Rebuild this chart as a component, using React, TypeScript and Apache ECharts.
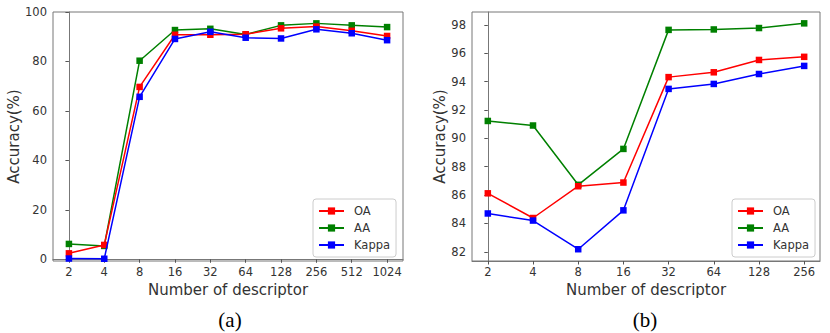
import React, { useEffect, useRef } from "react";
import * as echarts from "echarts";

const catsA = ["2", "4", "8", "16", "32", "64", "128", "256", "512", "1024"];
const oaA = [2.4, 5.8, 69.7, 90.8, 90.8, 91.0, 93.4, 94.1, 92.4, 90.3];
const aaA = [6.2, 5.4, 80.3, 92.7, 93.2, 90.9, 94.6, 95.4, 94.6, 93.9];
const kappaA = [0.3, 0.2, 65.7, 89.1, 92.0, 89.6, 89.3, 93.0, 91.4, 88.6];
const yTicksA = [0, 20, 40, 60, 80, 100];

const catsB = ["2", "4", "8", "16", "32", "64", "128", "256"];
const oaB = [86.12, 84.38, 86.62, 86.88, 94.31, 94.65, 95.52, 95.74];
const aaB = [91.22, 90.9, 86.72, 89.25, 97.64, 97.67, 97.77, 98.1];
const kappaB = [84.7, 84.2, 82.18, 84.92, 93.48, 93.83, 94.53, 95.1];
const yTicksB = [82, 84, 86, 88, 90, 92, 94, 96, 98];

const COLORS = { OA: "#ff0000", AA: "#008000", Kappa: "#0000ff" };
const FONT = "DejaVu Sans";
const TXT = "#333333";

export default function App() {
  const ref = useRef<HTMLDivElement>(null);
  useEffect(() => {
    if (!ref.current) return;
    const chart = echarts.init(ref.current, undefined, { renderer: "svg" });
    const xAxisBase = (cats: string[], gridIndex: number, pad: number) => ({
      type: "value",
      gridIndex,
      min: -pad,
      max: cats.length - 1 + pad,
      name: "Number of descriptor",
      nameLocation: "middle",
      nameGap: 19,
      nameTextStyle: { fontFamily: FONT, fontSize: 15, color: TXT },
      axisLine: { show: true, lineStyle: { color: "#777", width: 1 } },
      axisTick: {
        show: true,
        length: 3.5,
        customValues: cats.map((_, i) => i),
        lineStyle: { color: "#555" },
      },
      axisLabel: {
        customValues: cats.map((_, i) => i),
        formatter: (v: number) => cats[Math.round(v)] ?? "",
        fontFamily: FONT,
        fontSize: 11.5,
        color: TXT,
        margin: 5,
      },
      splitLine: { show: false },
    });
    const yAxisBase = (ticks: number[], gridIndex: number, min: number, max: number, gap: number) => ({
      type: "value",
      gridIndex,
      min,
      max,
      name: "Accuracy(%)",
      nameLocation: "middle",
      nameRotate: 90,
      nameGap: gap,
      nameTextStyle: { fontFamily: FONT, fontSize: 15, color: TXT },
      axisLine: { show: true, lineStyle: { color: "#777", width: 1 } },
      axisTick: { show: true, length: 3.5, customValues: ticks, lineStyle: { color: "#555" } },
      axisLabel: {
        customValues: ticks,
        fontFamily: FONT,
        fontSize: 11.5,
        color: TXT,
        margin: 6,
      },
      splitLine: { show: false },
    });
    const mk = (name: "OA" | "AA" | "Kappa", data: number[], idx: number) => ({
      type: "line",
      name,
      xAxisIndex: idx,
      yAxisIndex: idx,
      data: data.map((v, i) => [i, v]),
      symbol: "rect",
      symbolSize: 6.5,
      lineStyle: { color: COLORS[name], width: 1.5 },
      itemStyle: { color: COLORS[name] },
      z: name === "OA" ? 3 : name === "AA" ? 2 : 4,
    });
    const legendBase = (left: number) => ({
      orient: "vertical",
      left,
      top: 199,
      padding: [6, 6, 6, 5],
      itemGap: 5,
      itemWidth: 25,
      itemHeight: 9,
      borderColor: "#cccccc",
      borderWidth: 1,
      borderRadius: 3,
      backgroundColor: "#fff",
      selectedMode: false,
      data: ["OA", "AA", "Kappa"],
      textStyle: { fontFamily: FONT, fontSize: 11.5, color: TXT, padding: [0, 0, 0, 5] },
    });
    const caption = (x: number, text: string) => ({
      type: "text",
      x,
      y: 320,
      style: {
        text,
        fontFamily: "Liberation Serif",
        fontSize: 21,
        fill: "#000",
        textAlign: "center",
        textVerticalAlign: "middle",
      },
    });
    chart.setOption({
      animation: false,
      backgroundColor: "#ffffff",
      grid: [
        { left: 53, right: 427, top: 12, bottom: 72, show: true, borderColor: "#777", borderWidth: 1 },
        { left: 472, right: 10, top: 12, bottom: 72, show: true, borderColor: "#777", borderWidth: 1 },
      ],
      xAxis: [xAxisBase(catsA, 0, 0.45), xAxisBase(catsB, 1, 0.35)],
      yAxis: [yAxisBase(yTicksA, 0, -0.7, 100, 26), yAxisBase(yTicksB, 1, 81.35, 98.9, 25)],
      legend: [legendBase(313), legendBase(732)],
      series: [
        mk("OA", oaA, 0),
        mk("AA", aaA, 0),
        mk("Kappa", kappaA, 0),
        mk("OA", oaB, 1),
        mk("AA", aaB, 1),
        mk("Kappa", kappaB, 1),
      ],
      graphic: [caption(230, "(a)"), caption(645, "(b)")],
    });
    return () => chart.dispose();
  }, []);
  return (
    <div
      ref={ref}
      style={{ position: "fixed", left: 0, top: 0, width: 830, height: 333, background: "#fff" }}
    />
  );
}
